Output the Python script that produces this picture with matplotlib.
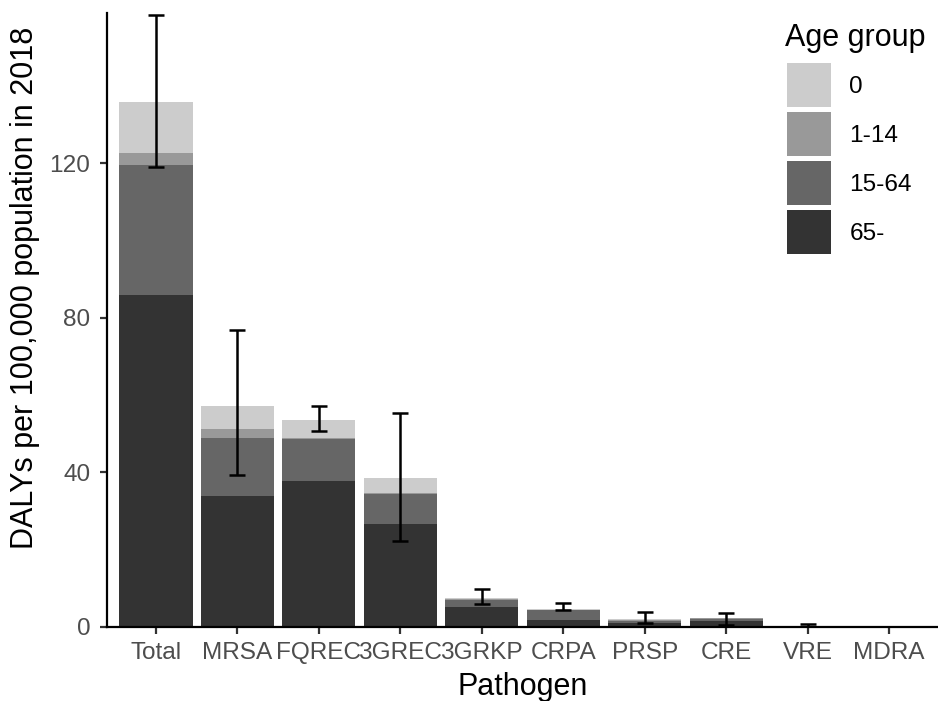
import numpy as np
import matplotlib
matplotlib.use('Agg')
import matplotlib.pyplot as plt
from matplotlib.patches import Patch

plt.rcParams['font.family'] = ['Liberation Sans', 'DejaVu Sans']

pathogens = ['Total', 'MRSA', 'FQREC', '3GREC', '3GRKP', 'CRPA', 'PRSP', 'CRE', 'VRE', 'MDRA']
age_groups = ['0', '1-14', '15-64', '65-']

# DALYs per 100,000 by age group (stacked from the bottom: 65-, 15-64, 1-14, 0)
dalys_65 = [86.0, 33.9, 37.6, 26.5, 5.0, 1.7, 0.9, 1.4, 0.05, 0.0]
dalys_15_64 = [33.6, 15.0, 11.0, 7.9, 1.9, 2.6, 0.6, 0.6, 0.03, 0.0]
dalys_1_14 = [3.0, 2.2, 0.3, 0.2, 0.2, 0.1, 0.1, 0.1, 0.0, 0.0]
dalys_0 = [13.4, 6.1, 4.6, 4.0, 0.3, 0.1, 0.4, 0.1, 0.0, 0.0]

# uncertainty interval of the total
ci_low = [119.2, 39.2, 50.6, 22.2, 5.9, 4.4, 0.9, 0.5, 0.0, np.nan]
ci_high = [158.5, 76.9, 57.2, 55.4, 9.7, 6.0, 3.8, 3.6, 0.6, np.nan]

colors = {'0': '#cccccc', '1-14': '#999999', '15-64': '#666666', '65-': '#333333'}

fig = plt.figure(figsize=(9.38, 7.01), dpi=100)
ax = fig.add_axes([107 / 938, 74.5 / 701, 831 / 938, 613.5 / 701])

x = np.arange(len(pathogens))
bottom = np.zeros(len(pathogens))
for grp, vals in [('65-', dalys_65), ('15-64', dalys_15_64), ('1-14', dalys_1_14), ('0', dalys_0)]:
    vals = np.array(vals)
    ax.bar(x, vals, width=0.9, bottom=bottom, color=colors[grp], linewidth=0, zorder=2)
    bottom += vals

lo = np.array(ci_low)
hi = np.array(ci_high)
mid = (lo + hi) / 2
ax.errorbar(x, mid, yerr=[mid - lo, hi - mid], fmt='none', ecolor='black',
            elinewidth=1.8, capsize=5.8, capthick=1.8, zorder=3)

ax.set_xlim(-0.6, 9.6)
ax.set_ylim(0, 159)
ax.set_yticks([0, 40, 80, 120])
ax.set_xticks(x)
ax.set_xticklabels(pathogens)

for s in ['top', 'right']:
    ax.spines[s].set_visible(False)
for s in ['left', 'bottom']:
    ax.spines[s].set_linewidth(1.6)
    ax.spines[s].set_color('black')
ax.tick_params(axis='both', colors='#333333', width=1.6, length=5,
               labelsize=17.6, labelcolor='#4d4d4d')
ax.tick_params(axis='x', pad=6)
ax.tick_params(axis='y', pad=7)

fig.text(25 / 938, 1 - 288 / 701, 'DALYs per 100,000 population in 2018',
         rotation=90, ha='center', va='center', fontsize=22)
fig.text(523 / 938, 1 - 687 / 701, 'Pathogen', ha='center', va='center', fontsize=22)

# legend: title as separate text, keys below it
fig.text(785 / 938, 1 - 46 / 701, 'Age group', ha='left', va='baseline', fontsize=22)
handles = [Patch(facecolor=colors[g], linewidth=0) for g in age_groups]
ax.legend(handles, age_groups, loc='upper left',
          bbox_to_anchor=(787 / 938, 1 - 63 / 701), bbox_transform=fig.transFigure,
          frameon=False, fontsize=17.6, handlelength=1.8,
          handleheight=2.4, labelspacing=0.2, handletextpad=0.75,
          borderpad=0, borderaxespad=0)

fig.savefig('out.png', dpi=100)
